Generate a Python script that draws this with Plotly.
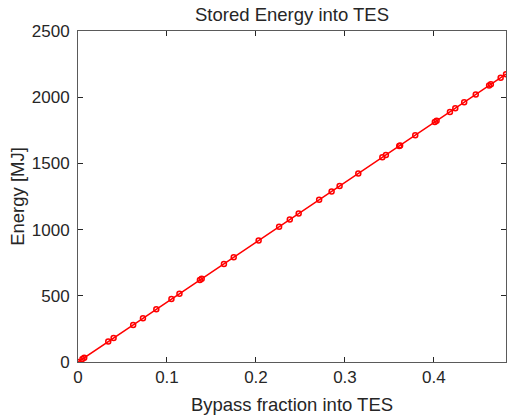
import plotly.graph_objects as go

bypass_fraction = [0, 0.005, 0.007, 0.034, 0.040, 0.062, 0.073, 0.088, 0.105, 0.114,
                   0.137, 0.139, 0.164, 0.175, 0.203, 0.226, 0.238, 0.248, 0.271, 0.285,
                   0.294, 0.315, 0.342, 0.346, 0.361, 0.362, 0.379, 0.401, 0.403, 0.418,
                   0.424, 0.434, 0.447, 0.462, 0.464, 0.475, 0.481]
energy_mj = [0, 23, 32, 154, 181, 280, 330, 398, 475, 515,
             619, 628, 741, 791, 918, 1022, 1076, 1121, 1225, 1288,
             1329, 1424, 1546, 1564, 1632, 1636, 1713, 1813, 1822, 1889,
             1916, 1962, 2020, 2088, 2097, 2147, 2174]

x_ticks = [0, 0.1, 0.2, 0.3, 0.4]
x_tick_labels = ["0", "0.1", "0.2", "0.3", "0.4"]
y_ticks = [0, 500, 1000, 1500, 2000, 2500]
y_tick_labels = ["0", "500", "1000", "1500", "2000", "2500"]

FONT = "Liberation Sans, Arial, Helvetica, sans-serif"
TXT = "#262626"
LINE = "#5a5a5a"

fig = go.Figure()
fig.add_trace(go.Scatter(
    x=bypass_fraction, y=energy_mj, mode="lines+markers",
    line=dict(color="#ff0000", width=1.5),
    marker=dict(symbol="circle-open", size=5, color="#ff0000",
                line=dict(color="#ff0000", width=1.5)),
    showlegend=False, hoverinfo="skip"))

axis_common = dict(
    showgrid=False, zeroline=False, showline=True, linecolor=LINE, linewidth=1,
    mirror="ticks", ticks="inside", ticklen=5, tickwidth=1, tickcolor=TXT,
    tickfont=dict(family=FONT, size=17, color=TXT), automargin=False,
)

fig.update_xaxes(range=[0, 0.481], tickvals=x_ticks, ticktext=x_tick_labels,
                 title=dict(text="Bypass fraction into TES",
                            font=dict(family=FONT, size=18.5, color=TXT), standoff=11),
                 **axis_common)
fig.update_yaxes(range=[0, 2500], tickvals=y_ticks, ticktext=y_tick_labels,
                 ticklabelstandoff=4,
                 title=dict(text="Energy [MJ]",
                            font=dict(family=FONT, size=18.5, color=TXT), standoff=2),
                 **axis_common)

fig.update_layout(
    width=507, height=419,
    margin=dict(l=78, r=1, t=31, b=57, autoexpand=False),
    paper_bgcolor="white", plot_bgcolor="white",
    title=dict(text="Stored Energy into TES", x=0.576, xanchor="center",
               y=0.966, yanchor="middle", automargin=False,
               font=dict(family=FONT, size=18.5, color=TXT)),
)

fig.write_html("out.html", config={"displayModeBar": False},
               post_script="document.body.style.margin='0';document.body.style.overflow='hidden';")
